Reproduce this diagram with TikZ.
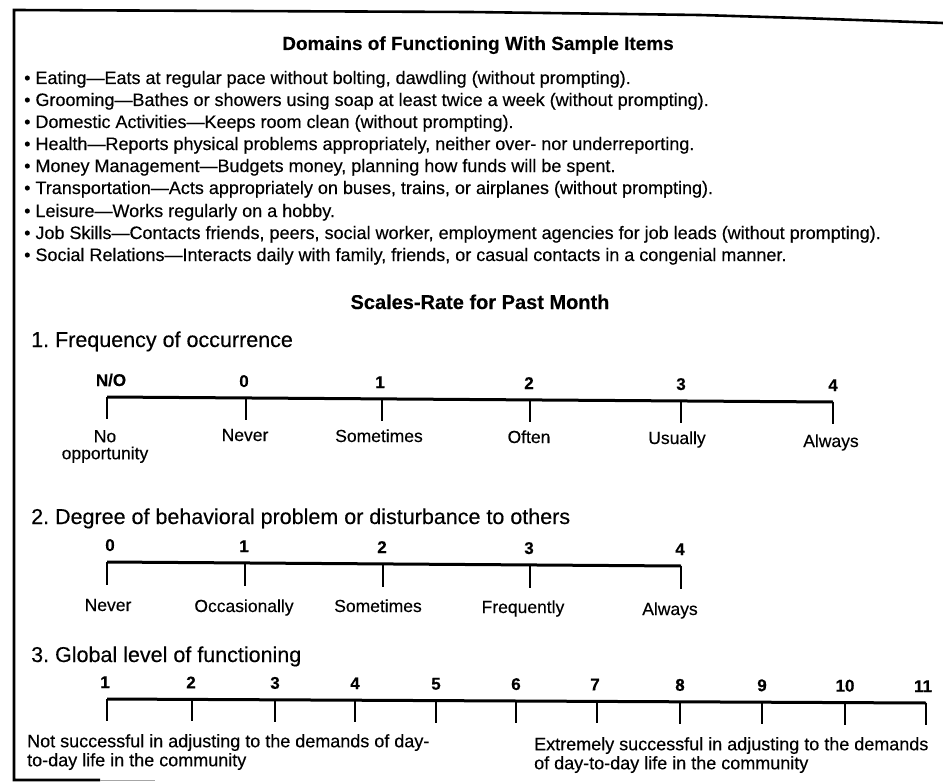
\documentclass[tikz,border=0pt]{standalone}
\usepackage{fontspec}
\setmainfont{Liberation Sans}[UprightFeatures={FakeBold=0.35}, BoldFeatures={FakeBold=0.3}]
\usetikzlibrary{calc}

\tikzset{
  boxtitle/.style={anchor=base, inner sep=0pt, font=\bfseries\fontsize{19}{23}\selectfont},
  bodyline/.style={anchor=base west, inner sep=0pt, font=\fontsize{18}{22}\selectfont},
  heading/.style={anchor=base west, inner sep=0pt, font=\fontsize{21.5}{26}\selectfont},
  val/.style={anchor=base, inner sep=0pt, font=\bfseries\fontsize{17}{20}\selectfont},
  lab/.style={anchor=base, inner sep=0pt, font=\fontsize{17.5}{18}\selectfont},
  lab2/.style={anchor=north, inner sep=0pt, align=center, font=\fontsize{17.5}{17}\selectfont},
  endtext/.style={anchor=north west, inner sep=0pt, align=left, font=\fontsize{18}{19}\selectfont},
  bar/.style={line width=3pt},
  tickmark/.style={line width=2.2pt},
  framerule/.style={line width=2.6pt},
}

\begin{document}
\frenchspacing
\begin{tikzpicture}[x=1pt, y=-1pt]
\useasboundingbox (0,0) rectangle (943,784);

% outer frame (left, top and the short piece of the bottom edge)
\coordinate (fTL) at (14,10);
\coordinate (fBL) at (14,780);
\draw[framerule] (943,23) -- (800,18) -- (700,15) -- (470,12) -- (fTL) -- (fBL) -- (100,780);
\draw[line width=1pt, black!35] (100,780) -- (155,780);

% domains
\node[boxtitle] (title) at (478,50) {Domains of Functioning With Sample Items};
\node[bodyline] (d1) at (24,84)  {• Eating—Eats at regular pace without bolting, dawdling (without prompting).};
\node[bodyline] (d2) at (24,106) {• Grooming—Bathes or showers using soap at least twice a week (without prompting).};
\node[bodyline] (d3) at (24,128) {• Domestic Activities—Keeps room clean (without prompting).};
\node[bodyline] (d4) at (24,150) {• Health—Reports physical problems appropriately, neither over- nor underreporting.};
\node[bodyline] (d5) at (24,172) {• Money Management—Budgets money, planning how funds will be spent.};
\node[bodyline] (d6) at (24,194) {• Transportation—Acts appropriately on buses, trains, or airplanes (without prompting).};
\node[bodyline] (d7) at (24,217) {• Leisure—Works regularly on a hobby.};
\node[bodyline] (d8) at (24,239) {• Job Skills—Contacts friends, peers, social worker, employment agencies for job leads (without prompting).};
\node[bodyline] (d9) at (24,261) {• Social Relations—Interacts daily with family, friends, or casual contacts in a congenial manner.};

\node[boxtitle, font=\bfseries\fontsize{20}{24}\selectfont] (scales) at (480,309) {Scales-Rate for Past Month};

% ---- scale 1: frequency of occurrence
\node[heading] (h1) at (31,347) {1. Frequency of occurrence};
\coordinate (a0) at (107,397);
\coordinate (a1) at (246,398);
\coordinate (a2) at (382,399);
\coordinate (a3) at (530,400);
\coordinate (a4) at (681,401);
\coordinate (a5) at (833,402);
\draw[bar] (a0) -- (a5);
\foreach \c in {a0,a1,a2,a3,a4,a5} \draw[tickmark] (\c) -- ++(0,22);
\node[val] (av0) at (111,386) {N/O};
\node[val] (av1) at (244,387) {0};
\node[val] (av2) at (380,388) {1};
\node[val] (av3) at (529,389) {2};
\node[val] (av4) at (681,390) {3};
\node[val] (av5) at (833,391) {4};
\node[lab2] (al0) at (105,430) {No\\opportunity};
\node[lab] (al1) at (245,441) {Never};
\node[lab] (al2) at (379,442) {Sometimes};
\node[lab] (al3) at (529,443) {Often};
\node[lab] (al4) at (677,444) {Usually};
\node[lab] (al5) at (831,447) {Always};

% ---- scale 2: behavioral problem
\node[heading] (h2) at (31,524) {2. Degree of behavioral problem or disturbance to others};
\coordinate (b0) at (107,562);
\coordinate (b1) at (245,563);
\coordinate (b2) at (383,564);
\coordinate (b3) at (530,565);
\coordinate (b4) at (681,566);
\draw[bar] (b0) -- (b4);
\foreach \c in {b0,b1,b2,b3,b4} \draw[tickmark] (\c) -- ++(0,23);
\node[val] (bv0) at (110,551) {0};
\node[val] (bv1) at (244,552) {1};
\node[val] (bv2) at (382,553) {2};
\node[val] (bv3) at (529,554) {3};
\node[val] (bv4) at (680,555) {4};
\node[lab] (bl0) at (108,611) {Never};
\node[lab] (bl1) at (244,612) {Occasionally};
\node[lab] (bl2) at (378,612) {Sometimes};
\node[lab] (bl3) at (523,613) {Frequently};
\node[lab] (bl4) at (670,615) {Always};

% ---- scale 3: global level of functioning
\node[heading] (h3) at (31,662) {3. Global level of functioning};
\coordinate (c1)  at (107,699);
\coordinate (c2)  at (192,699.4);
\coordinate (c3)  at (275,699.8);
\coordinate (c4)  at (355,700.2);
\coordinate (c5)  at (436,700.6);
\coordinate (c6)  at (516,701);
\coordinate (c7)  at (597,701.4);
\coordinate (c8)  at (680,701.8);
\coordinate (c9)  at (762,702.2);
\coordinate (c10) at (845,702.6);
\coordinate (c11) at (926,703);
\draw[bar] (c1) -- (c11);
\foreach \c in {c1,c2,c3,c4,c5,c6,c7,c8,c9,c10,c11} \draw[tickmark] (\c) -- ++(0,22);
\node[val] (cv1)  at (105,688)   {1};
\node[val] (cv2)  at (191,688.4) {2};
\node[val] (cv3)  at (275,688.8) {3};
\node[val] (cv4)  at (355,689.2) {4};
\node[val] (cv5)  at (436,689.6) {5};
\node[val] (cv6)  at (516,690)   {6};
\node[val] (cv7)  at (595,690.4) {7};
\node[val] (cv8)  at (680,690.8) {8};
\node[val] (cv9)  at (762,691.2) {9};
\node[val] (cv10) at (845,691.6) {10};
\node[val] (cv11) at (923,692)   {11};
\node[endtext] (lowend)  at (27,734)  {Not successful in adjusting to the demands of day-\\to-day life in the community};
\node[endtext] (highend) at (534,737) {Extremely successful in adjusting to the demands\\of day-to-day life in the community};

\end{tikzpicture}
\end{document}
